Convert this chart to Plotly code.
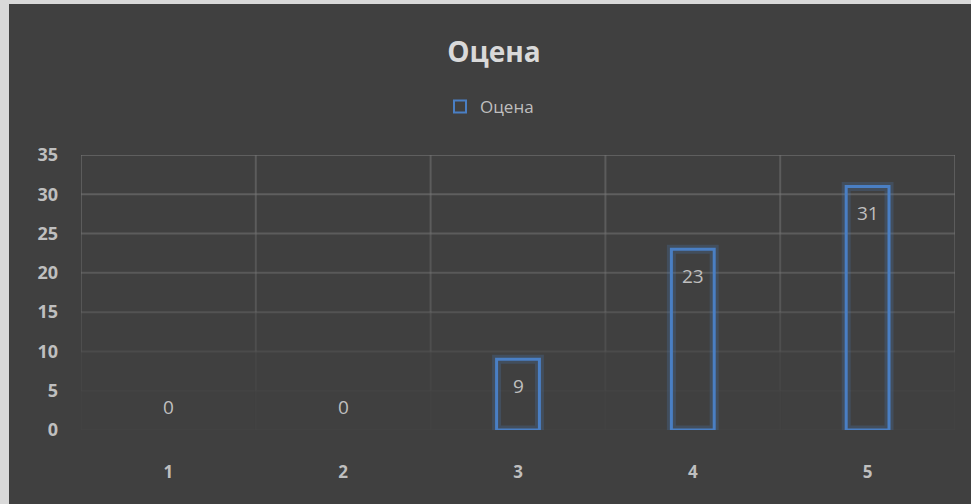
import plotly.graph_objects as go

# Grade distribution
categories = ["1", "2", "3", "4", "5"]
counts = [0, 0, 9, 23, 31]
y_ticks = [0, 5, 10, 15, 20, 25, 30, 35]

W, H = 971, 504
ML, MR, MT, MB = 81, 16, 155, 74
PW, PH = W - ML - MR, H - MT - MB

BLUE = "#4a7fc4"
BG = "#404040"
TXT = "#bfbfbf"
FONT = "Open Sans, Noto Sans, sans-serif"


def px_x(p):
    return (p - ML) / PW


def px_y(p):
    return (H - MB - p) / PH


# zero-height bars get no outline
outline_w = [3 if v > 0 else 0 for v in counts]
halo_w = [9 if v > 0 else 0 for v in counts]

fig = go.Figure()

# soft halo around the bar outlines
fig.add_trace(go.Bar(
    x=categories, y=counts, width=0.245,
    marker=dict(color="rgba(0,0,0,0)", line=dict(color="rgba(74,127,196,0.22)", width=halo_w)),
    showlegend=False, hoverinfo="skip",
))
fig.add_trace(go.Bar(
    x=categories, y=counts, width=0.245, name="Оцена", showlegend=False,
    marker=dict(color="rgba(0,0,0,0)", line=dict(color=BLUE, width=outline_w)),
))
# legend entry with a uniform outline swatch
fig.add_trace(go.Bar(
    x=[categories[0]], y=[None], name="Оцена", showlegend=True, hoverinfo="skip",
    marker=dict(color="rgba(0,0,0,0)", line=dict(color=BLUE, width=2)),
))

shapes = [
    # chart area panel over a light frame
    dict(type="rect", xref="paper", yref="paper", layer="below",
         x0=px_x(9), x1=px_x(W + 5), y0=px_y(H + 5), y1=px_y(4),
         fillcolor=BG, line=dict(width=0)),
]

# horizontal gridlines, fading toward the baseline
grid_alpha = {35: 0.55, 30: 0.55, 25: 0.5, 20: 0.45, 15: 0.35, 10: 0.2, 5: 0.06, 0: 0.04}
for t in y_ticks:
    shapes.append(dict(type="line", xref="paper", yref="y", layer="below",
                       x0=0, x1=1, y0=t, y1=t,
                       line=dict(color=f"rgba(120,120,120,{grid_alpha[t]})", width=2)))

# vertical category separators, fading downward
seg = [(35, 25, 0.5), (25, 15, 0.4), (15, 10, 0.25), (10, 5, 0.1), (5, 0, 0.03)]
for i in range(len(categories) + 1):
    xv = i - 0.5
    for y0, y1, a in seg:
        shapes.append(dict(type="line", xref="x", yref="y", layer="below",
                           x0=xv, x1=xv, y0=y0, y1=y1,
                           line=dict(color=f"rgba(120,120,120,{a})", width=2)))

annotations = []
for i, v in enumerate(counts):
    annotations.append(dict(
        x=i, y=v, xref="x", yref="y", text=str(v), showarrow=False,
        yshift=-27 if v > 0 else 23,
        font=dict(family=FONT, size=19, color=TXT),
    ))

fig.update_layout(
    width=W, height=H,
    margin=dict(l=ML, r=MR, t=MT, b=MB),
    paper_bgcolor="#d9d9d9",
    plot_bgcolor="rgba(0,0,0,0)",
    barmode="overlay",
    title=dict(text="<b>Оцена</b>", x=px_x(494), xref="paper", xanchor="center",
               y=1 - 52 / H, yanchor="middle",
               font=dict(family=FONT, size=28, color="#d9d9d9")),
    legend=dict(orientation="h", x=px_x(440), xanchor="left", y=px_y(107), yanchor="middle",
                font=dict(family=FONT, size=17, color=TXT), bgcolor="rgba(0,0,0,0)",
                itemwidth=30),
    xaxis=dict(showgrid=False, zeroline=False, showline=False,
               ticks="", ticklabelstandoff=30, range=[-0.5, 4.5],
               tickfont=dict(family=FONT, size=17, color=TXT),
               ticktext=[f"<b>{c}</b>" for c in categories], tickvals=categories),
    yaxis=dict(range=[0, 35], showgrid=False, zeroline=False, showline=False,
               ticks="", ticklabelstandoff=22, tickvals=y_ticks,
               ticktext=[f"<b>{t}</b>" for t in y_ticks],
               tickfont=dict(family=FONT, size=18, color=TXT)),
    shapes=shapes,
    annotations=annotations,
    showlegend=True,
)

fig.write_html("out.html")
